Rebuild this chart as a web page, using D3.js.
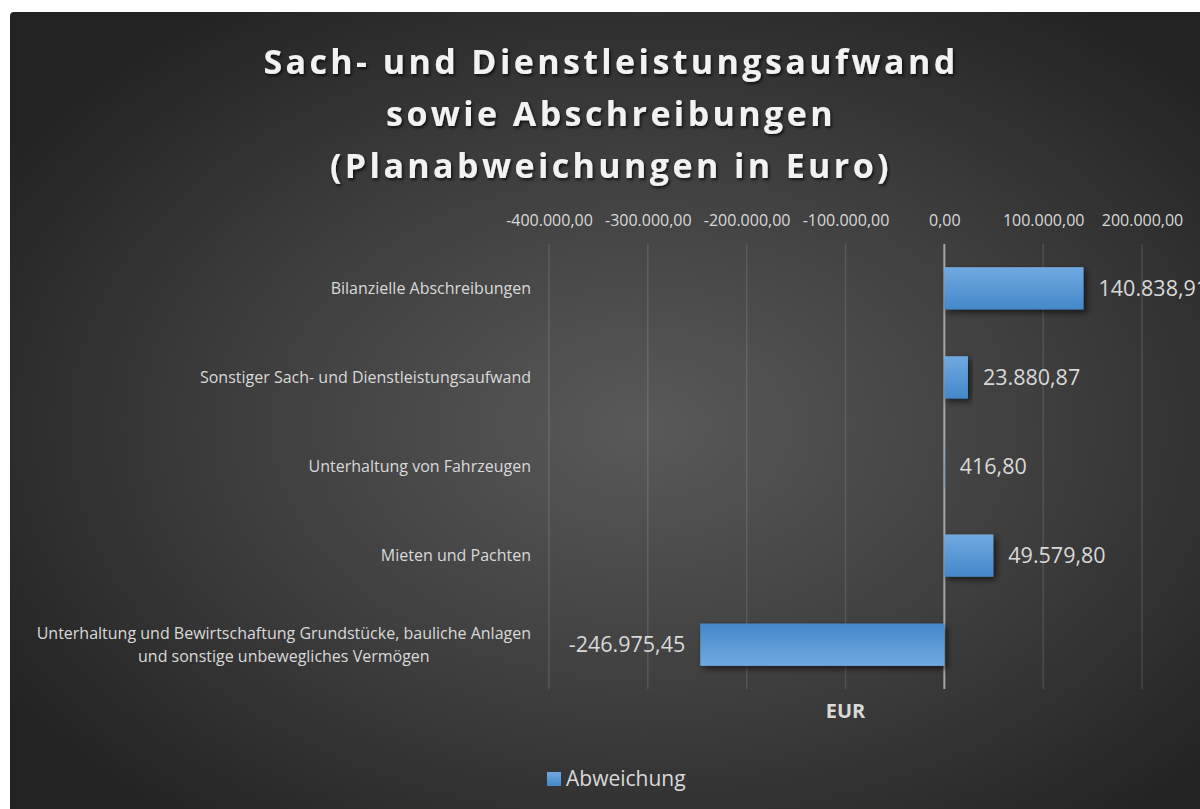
<!DOCTYPE html>
<html>
<head>
<meta charset="utf-8">
<script src="https://cdn.jsdelivr.net/npm/d3@7.9.0/dist/d3.min.js"></script>
<style>
  html, body { margin: 0; padding: 0; background: #fff; }
  svg { display: block; font-family: "Open Sans", "DejaVu Sans", sans-serif; }
</style>
</head>
<body>
<svg id="chart" width="1200" height="809"></svg>
<script>
// data
const titleLines = ['Sach- und Dienstleistungsaufwand', 'sowie Abschreibungen', '(Planabweichungen in Euro)'];
const categories = [
  'Bilanzielle Abschreibungen',
  'Sonstiger Sach- und Dienstleistungsaufwand',
  'Unterhaltung von Fahrzeugen',
  'Mieten und Pachten',
  'Unterhaltung und Bewirtschaftung Grundstücke, bauliche Anlagen\nund sonstige unbewegliches Vermögen'
];
const values = [140838.91, 23880.87, 416.80, 49579.80, -246975.45];
const tickValues = [-400000, -300000, -200000, -100000, 0, 100000, 200000];
const seriesName = 'Abweichung';
const axisTitle = 'EUR';

const de = d3.formatLocale({ decimal: ',', thousands: '.', grouping: [3], currency: ['', ' €'], minus: '-' });
const fmt = de.format(',.2f');

const svg = d3.select('#chart');
const defs = svg.append('defs');

// background gradient
let bg = defs.append('radialGradient')
    .attr('id', 'bg')
    .attr('cx', 0.52).attr('cy', 0.5).attr('r', 0.62);
bg.append('stop').attr('offset', 0).attr('stop-color', '#595959');
bg.append('stop').attr('offset', 0.55).attr('stop-color', '#3d3d3d');
bg.append('stop').attr('offset', 1).attr('stop-color', '#232323');

let gPos = defs.append('linearGradient').attr('id', 'barPos').attr('x1', 0).attr('y1', 0).attr('x2', 0).attr('y2', 1);
gPos.append('stop').attr('offset', 0).attr('stop-color', '#70a9e0');
gPos.append('stop').attr('offset', 1).attr('stop-color', '#4488c9');
let gNeg = defs.append('linearGradient').attr('id', 'barNeg').attr('x1', 0).attr('y1', 0).attr('x2', 0).attr('y2', 1);
gNeg.append('stop').attr('offset', 0).attr('stop-color', '#4488c9');
gNeg.append('stop').attr('offset', 1).attr('stop-color', '#70a9e0');

defs.append('filter').attr('id', 'barShadow')
    .attr('x', '-10%').attr('y', '-20%').attr('width', '130%').attr('height', '160%')
  .append('feDropShadow')
    .attr('dx', 3).attr('dy', 3).attr('stdDeviation', 3)
    .attr('flood-color', '#000').attr('flood-opacity', 0.6);

defs.append('filter').attr('id', 'textShadow')
    .attr('x', '-5%').attr('y', '-20%').attr('width', '110%').attr('height', '150%')
  .append('feDropShadow')
    .attr('dx', 1.5).attr('dy', 2).attr('stdDeviation', 1.5)
    .attr('flood-color', '#000').attr('flood-opacity', 0.7);

svg.append('rect')
    .attr('x', 10).attr('y', 12)
    .attr('width', 1220).attr('height', 830)
    .attr('rx', 4)
    .attr('fill', 'url(#bg)');

// title
svg.append('text')
    .attr('filter', 'url(#textShadow)')
    .attr('text-anchor', 'middle')
    .attr('fill', '#f2f2f2')
    .attr('font-size', 34)
    .attr('font-weight', 700)
    .attr('letter-spacing', 3.4)
  .selectAll('tspan')
  .data(titleLines)
  .enter()
  .append('tspan')
    .attr('x', 611)
    .attr('y', (d, i) => 74 + i * 52)
    .text(d => d);

// scales
let x = d3.scaleLinear()
    .domain([-400000, 200000])
    .range([549, 1142]);

let y = d3.scaleBand()
    .domain(categories)
    .range([244, 689])
    .paddingInner(0.525)
    .paddingOuter(0.26);

// gridlines
svg.append('g')
    .selectAll('line')
    .data(tickValues.filter(d => d !== 0))
    .enter()
    .append('line')
    .attr('x1', d => x(d)).attr('x2', d => x(d))
    .attr('y1', 244).attr('y2', 689)
    .attr('stroke', 'rgba(255,255,255,0.12)')
    .attr('stroke-width', 1.5);

// top axis labels
let xAxis = d3.axisTop(x)
    .tickValues(tickValues)
    .tickFormat(fmt)
    .tickSize(0)
    .tickPadding(0);

let gx = svg.append('g')
    .attr('transform', 'translate(0,226)')
    .call(xAxis);
gx.select('.domain').remove();
gx.selectAll('text')
    .attr('fill', '#d9d9d9')
    .attr('font-size', 16)
    .attr('font-family', '"Open Sans", sans-serif');

// zero line
svg.append('line')
    .attr('x1', x(0)).attr('x2', x(0))
    .attr('y1', 244).attr('y2', 689)
    .attr('stroke', '#a6a6a6')
    .attr('stroke-width', 2);

// bars
svg.append('g')
    .selectAll('rect')
    .data(values)
    .enter()
    .append('rect')
    .attr('x', d => x(Math.min(0, d)))
    .attr('y', (d, i) => y(categories[i]))
    .attr('width', d => Math.abs(x(d) - x(0)))
    .attr('height', y.bandwidth())
    .attr('fill', d => d < 0 ? 'url(#barNeg)' : 'url(#barPos)')
    .attr('filter', 'url(#barShadow)');

// value labels
svg.append('g')
    .selectAll('text')
    .data(values)
    .enter()
    .append('text')
    .attr('x', d => d < 0 ? x(d) - 15 : x(d) + 15)
    .attr('y', (d, i) => y(categories[i]) + y.bandwidth() / 2)
    .attr('dy', '0.35em')
    .attr('text-anchor', d => d < 0 ? 'end' : 'start')
    .attr('fill', '#d9d9d9')
    .attr('font-size', 21.5)
    .text(d => fmt(d));

// category labels
let catLabels = svg.append('g')
    .selectAll('text')
    .data(categories)
    .enter()
    .append('text')
    .attr('fill', '#d9d9d9')
    .attr('font-size', 16)
    .attr('text-anchor', 'middle');

catLabels.each(function (d) {
    let lines = d.split('\n');
    let t = d3.select(this);
    let cy = y(d) + y.bandwidth() / 2;
    let lh = 23;
    lines.forEach((line, i) => {
        t.append('tspan')
            .attr('y', cy + (i - (lines.length - 1) / 2) * lh)
            .attr('dy', '0.35em')
            .text(line);
    });
    let w = d3.max(t.selectAll('tspan').nodes(), n => n.getComputedTextLength());
    t.selectAll('tspan').attr('x', 531 - w / 2);
});

// axis title
svg.append('text')
    .attr('x', (x.range()[0] + x.range()[1]) / 2)
    .attr('y', 718)
    .attr('text-anchor', 'middle')
    .attr('fill', '#d9d9d9')
    .attr('font-size', 20)
    .attr('font-weight', 700)
    .text(axisTitle);

// legend
let legend = svg.append('g').attr('transform', 'translate(547,772)');
legend.append('rect')
    .attr('width', 14).attr('height', 14)
    .attr('fill', 'url(#barPos)');
legend.append('text')
    .attr('x', 19).attr('y', 14)
    .attr('fill', '#d9d9d9')
    .attr('font-size', 21)
    .text(seriesName);
</script>
</body>
</html>
